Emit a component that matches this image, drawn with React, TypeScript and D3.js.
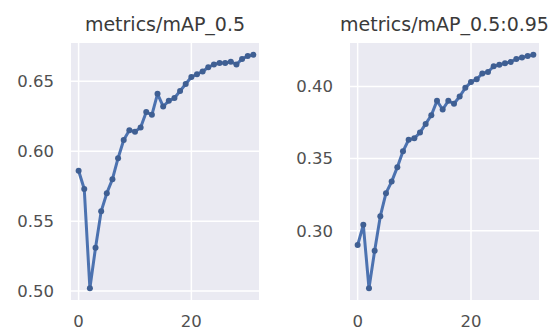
import * as d3 from 'd3';
import React, { useEffect, useRef } from 'react';

// values, one per epoch (0..31)
const mAP50 = [
  0.586, 0.573, 0.502, 0.531, 0.557, 0.57, 0.58, 0.595, 0.608, 0.615, 0.614,
  0.617, 0.628, 0.626, 0.641, 0.632, 0.636, 0.638, 0.643, 0.648, 0.653, 0.655,
  0.657, 0.66, 0.662, 0.663, 0.663, 0.664, 0.662, 0.666, 0.668, 0.669,
];
const mAP5095 = [
  0.29, 0.304, 0.26, 0.286, 0.31, 0.326, 0.334, 0.344, 0.355, 0.363, 0.364,
  0.368, 0.374, 0.38, 0.39, 0.384, 0.39, 0.388, 0.393, 0.399, 0.403, 0.405,
  0.409, 0.41, 0.414, 0.415, 0.416, 0.417, 0.419, 0.42, 0.421, 0.422,
];
const xTicks = [0, 20];
const yTicks50 = [0.5, 0.55, 0.6, 0.65];
const yTicks5095 = [0.3, 0.35, 0.4];

const panels = [
  { title: 'metrics/mAP_0.5', values: mAP50, ticks: yTicks50, left: 71, right: 259 },
  { title: 'metrics/mAP_0.5:0.95', values: mAP5095, ticks: yTicks5095, left: 350, right: 539 },
];

const W = 554;
const H = 333;
const top = 43;
const bottom = 300;
const font = 'DejaVu Sans, sans-serif';

export default function App() {
  const ref = useRef<SVGSVGElement>(null);

  useEffect(() => {
    const svg = d3.select(ref.current);
    svg.selectAll('*').remove();

    panels.forEach((p) => {
      const ext = d3.extent(p.values) as [number, number];
      const pad = (ext[1] - ext[0]) * 0.05;

      const x = d3.scaleLinear().domain([-1.35, 32]).range([p.left, p.right]);
      const y = d3.scaleLinear().domain([ext[0] - pad, ext[1] + pad]).range([bottom, top]);

      const g = svg.append('g');

      // background
      g.append('rect')
        .attr('x', p.left)
        .attr('y', top)
        .attr('width', p.right - p.left)
        .attr('height', bottom - top)
        .attr('fill', '#EAEAF2');

      // grid
      g.selectAll('.hgrid')
        .data(p.ticks)
        .enter()
        .append('line')
        .attr('x1', p.left)
        .attr('x2', p.right)
        .attr('y1', (d) => y(d))
        .attr('y2', (d) => y(d))
        .attr('stroke', 'white')
        .attr('stroke-width', 1.5);

      g.selectAll('.vgrid')
        .data(xTicks)
        .enter()
        .append('line')
        .attr('x1', (d) => x(d))
        .attr('x2', (d) => x(d))
        .attr('y1', top)
        .attr('y2', bottom)
        .attr('stroke', 'white')
        .attr('stroke-width', 1.5);

      // tick labels
      g.selectAll('.ylab')
        .data(p.ticks)
        .enter()
        .append('text')
        .attr('x', p.left - 17)
        .attr('y', (d) => y(d))
        .attr('dy', '0.36em')
        .attr('text-anchor', 'end')
        .attr('font-family', font)
        .attr('font-size', 16.5)
        .attr('fill', '#505050')
        .text((d) => d3.format('.2f')(d));

      g.selectAll('.xlab')
        .data(xTicks)
        .enter()
        .append('text')
        .attr('x', (d) => x(d))
        .attr('y', 327)
        .attr('text-anchor', 'middle')
        .attr('font-family', font)
        .attr('font-size', 16.5)
        .attr('fill', '#505050')
        .text((d) => d);

      // title
      g.append('text')
        .attr('x', (p.left + p.right) / 2)
        .attr('y', 31)
        .attr('text-anchor', 'middle')
        .attr('font-family', font)
        .attr('font-size', 19)
        .attr('fill', '#3a3a3a')
        .text(p.title);

      // line + dots
      const line = d3.line<number>()
        .x((d, i) => x(i))
        .y((d) => y(d));

      g.append('path')
        .attr('d', line(p.values))
        .attr('fill', 'none')
        .attr('stroke', '#4C72B0')
        .attr('stroke-width', 3)
        .attr('stroke-linejoin', 'round');

      g.selectAll('.dot')
        .data(p.values)
        .enter()
        .append('circle')
        .attr('cx', (d, i) => x(i))
        .attr('cy', (d) => y(d))
        .attr('r', 3)
        .attr('fill', '#3F5F93');
    });
  }, []);

  return (
    <svg
      ref={ref}
      width={W}
      height={H}
      style={{ position: 'absolute', left: 0, top: 0, background: 'white' }}
    />
  );
}
